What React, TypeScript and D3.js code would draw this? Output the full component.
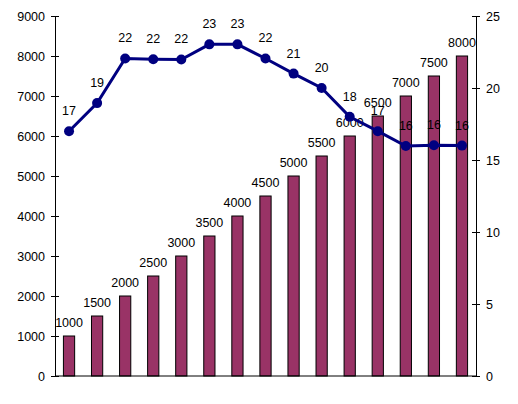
// @ts-nocheck
import React, { useEffect, useRef } from 'react';
import * as d3 from 'd3';

const categories = ['1', '2', '3', '4', '5', '6', '7', '8', '9', '10', '11', '12', '13', '14', '15'];
const barValues = [1000, 1500, 2000, 2500, 3000, 3500, 4000, 4500, 5000, 5500, 6000, 6500, 7000, 7500, 8000];
const lineValues = [17, 18.95, 22.05, 22, 21.98, 23.03, 23.03, 22.05, 21, 20, 18, 17, 15.97, 16.02, 16];
const leftTicks = [0, 1000, 2000, 3000, 4000, 5000, 6000, 7000, 8000, 9000];
const rightTicks = [0, 5, 10, 15, 20, 25];

const FONT = '"Liberation Sans", Arial, sans-serif';

const App: React.FC = () => {
  const chartRef = useRef<SVGSVGElement | null>(null);

  useEffect(() => {
    draw();
  }, []);

  const draw = () => {
    const margin = { top: 16, right: 42, bottom: 28, left: 55 };
    const W = 518;
    const H = 404;
    const width = W - margin.left - margin.right;
    const height = H - margin.top - margin.bottom;

    const root = d3.select(chartRef.current);
    root.selectAll('*').remove();

    const x = d3.scaleBand().domain(categories).range([0, width]).paddingInner(0.6).paddingOuter(0.3);
    const yL = d3.scaleLinear().domain([0, 9000]).range([height, 0]);
    const yR = d3.scaleLinear().domain([0, 25]).range([height, 0]);

    const svg = root.append('g').attr('transform', `translate(${margin.left},${margin.top})`);

    // barras
    svg.selectAll('rect.bar')
      .data(barValues)
      .enter()
      .append('rect')
      .attr('class', 'bar')
      .attr('x', (d, i) => x(categories[i]))
      .attr('width', x.bandwidth())
      .attr('y', (d) => yL(d))
      .attr('height', (d) => height - yL(d))
      .attr('fill', '#993366')
      .attr('stroke', '#000')
      .attr('stroke-width', 1);

    // ejes
    const axisStyle = (g) => {
      g.select('.domain').attr('stroke', '#000');
      g.selectAll('.tick line').attr('stroke', '#000');
      g.selectAll('text').style('font-family', FONT).style('font-size', '12.5px').style('fill', '#000');
    };

    svg.append('g')
      .call(d3.axisLeft(yL).tickValues(leftTicks).tickSize(4).tickSizeOuter(0).tickPadding(6).tickFormat(d3.format('d')))
      .call(axisStyle)
      .call((g) => g.selectAll('.tick line').attr('x2', 4).attr('x1', -4));

    svg.append('g')
      .attr('transform', `translate(${width},0)`)
      .call(d3.axisRight(yR).tickValues(rightTicks).tickSize(4).tickSizeOuter(0).tickPadding(6))
      .call(axisStyle)
      .call((g) => g.selectAll('.tick line').attr('x1', -4).attr('x2', 4));

    svg.append('line')
      .attr('x1', 0).attr('x2', width)
      .attr('y1', height).attr('y2', height)
      .attr('stroke', '#000');

    // etiquetas de barras
    svg.selectAll('text.barlabel')
      .data(barValues)
      .enter()
      .append('text')
      .attr('class', 'barlabel')
      .attr('x', (d, i) => x(categories[i]) + x.bandwidth() / 2)
      .attr('y', (d) => yL(d) - 9)
      .attr('text-anchor', 'middle')
      .style('font-family', FONT)
      .style('font-size', '12.5px')
      .style('fill', '#000')
      .text((d) => d);

    // línea
    const cx = (i) => x(categories[i]) + x.bandwidth() / 2;
    const line = d3.line().x((d, i) => cx(i)).y((d) => yR(d));

    svg.append('path')
      .datum(lineValues)
      .attr('d', line)
      .attr('fill', 'none')
      .attr('stroke', '#000080')
      .attr('stroke-width', 3);

    svg.selectAll('circle')
      .data(lineValues)
      .enter()
      .append('circle')
      .attr('cx', (d, i) => cx(i))
      .attr('cy', (d) => yR(d))
      .attr('r', 5)
      .attr('fill', '#000080');

    svg.selectAll('text.linelabel')
      .data(lineValues)
      .enter()
      .append('text')
      .attr('class', 'linelabel')
      .attr('x', (d, i) => cx(i))
      .attr('y', (d) => yR(d) - 16)
      .attr('text-anchor', 'middle')
      .style('font-family', FONT)
      .style('font-size', '12.5px')
      .style('fill', '#000')
      .text((d) => Math.round(d));
  };

  return (
    <svg
      ref={chartRef}
      width={518}
      height={404}
      style={{ position: 'absolute', left: 0, top: 0, background: '#fff' }}
    ></svg>
  );
};

export default App;
